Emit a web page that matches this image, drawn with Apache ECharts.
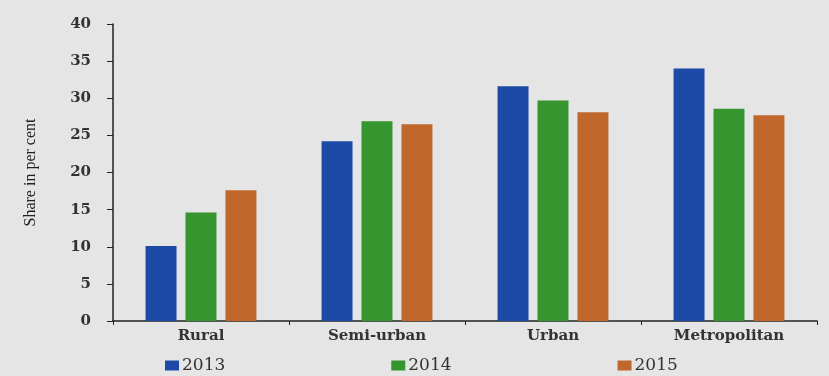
<!DOCTYPE html>
<html>
<head>
<meta charset="utf-8">
<script src="https://cdn.jsdelivr.net/npm/echarts@6/dist/echarts.min.js"></script>
<style>
  html, body { margin: 0; padding: 0; background: #e5e5e5; }
  #chart { width: 829px; height: 376px; }
</style>
</head>
<body>
<div id="chart"></div>
<script>
const categories = ['Rural', 'Semi-urban', 'Urban', 'Metropolitan']
const years = ['2013', '2014', '2015']
const values2013 = [10.1, 24.2, 31.6, 34.0]
const values2014 = [14.6, 26.9, 29.7, 28.6]
const values2015 = [17.6, 26.5, 28.1, 27.7]
const yTicks = [0, 40, 5] // min, max, interval

const colors = ['#1d4aa6', '#35962f', '#c0672b']
const serif = '"DejaVu Serif", "Liberation Serif", serif'

const myChart = echarts.init(document.getElementById('chart'))

const seriesData = [values2013, values2014, values2015]

myChart.setOption({
  backgroundColor: '#e5e5e5',
  animation: false,
  grid: { left: 113, right: 12, top: 24, bottom: 55 },
  legend: {
    data: years,
    left: 160,
    top: 352,
    itemWidth: 14,
    itemHeight: 10,
    itemGap: 166,
    icon: 'rect',
    textStyle: { fontFamily: serif, fontSize: 17, color: '#333', padding: [0, 0, 0, -2] },
  },
  xAxis: {
    type: 'category',
    data: categories,
    axisLine: { lineStyle: { color: '#222', width: 1.5 } },
    axisTick: { show: true, length: 4, lineStyle: { color: '#222' } },
    axisLabel: { fontFamily: serif, fontSize: 15, fontWeight: 'bold', color: '#333', margin: 8 },
  },
  yAxis: {
    type: 'value',
    min: yTicks[0],
    max: yTicks[1],
    interval: yTicks[2],
    name: 'Share in per cent',
    nameLocation: 'middle',
    nameGap: 74,
    nameTextStyle: { fontFamily: '"Liberation Serif", serif', fontSize: 16, color: '#222' },
    axisLine: { show: true, lineStyle: { color: '#222', width: 1.5 } },
    axisTick: { show: true, length: 6, lineStyle: { color: '#222' } },
    axisLabel: { fontFamily: serif, fontSize: 15, fontWeight: 'bold', color: '#333', margin: 22 },
    splitLine: { show: false },
  },
  series: years.map((y, i) => ({
    name: y,
    type: 'bar',
    data: seriesData[i],
    barGap: '29%',
    barCategoryGap: '37%',
    itemStyle: { color: colors[i] },
  })),
})
</script>
</body>
</html>
